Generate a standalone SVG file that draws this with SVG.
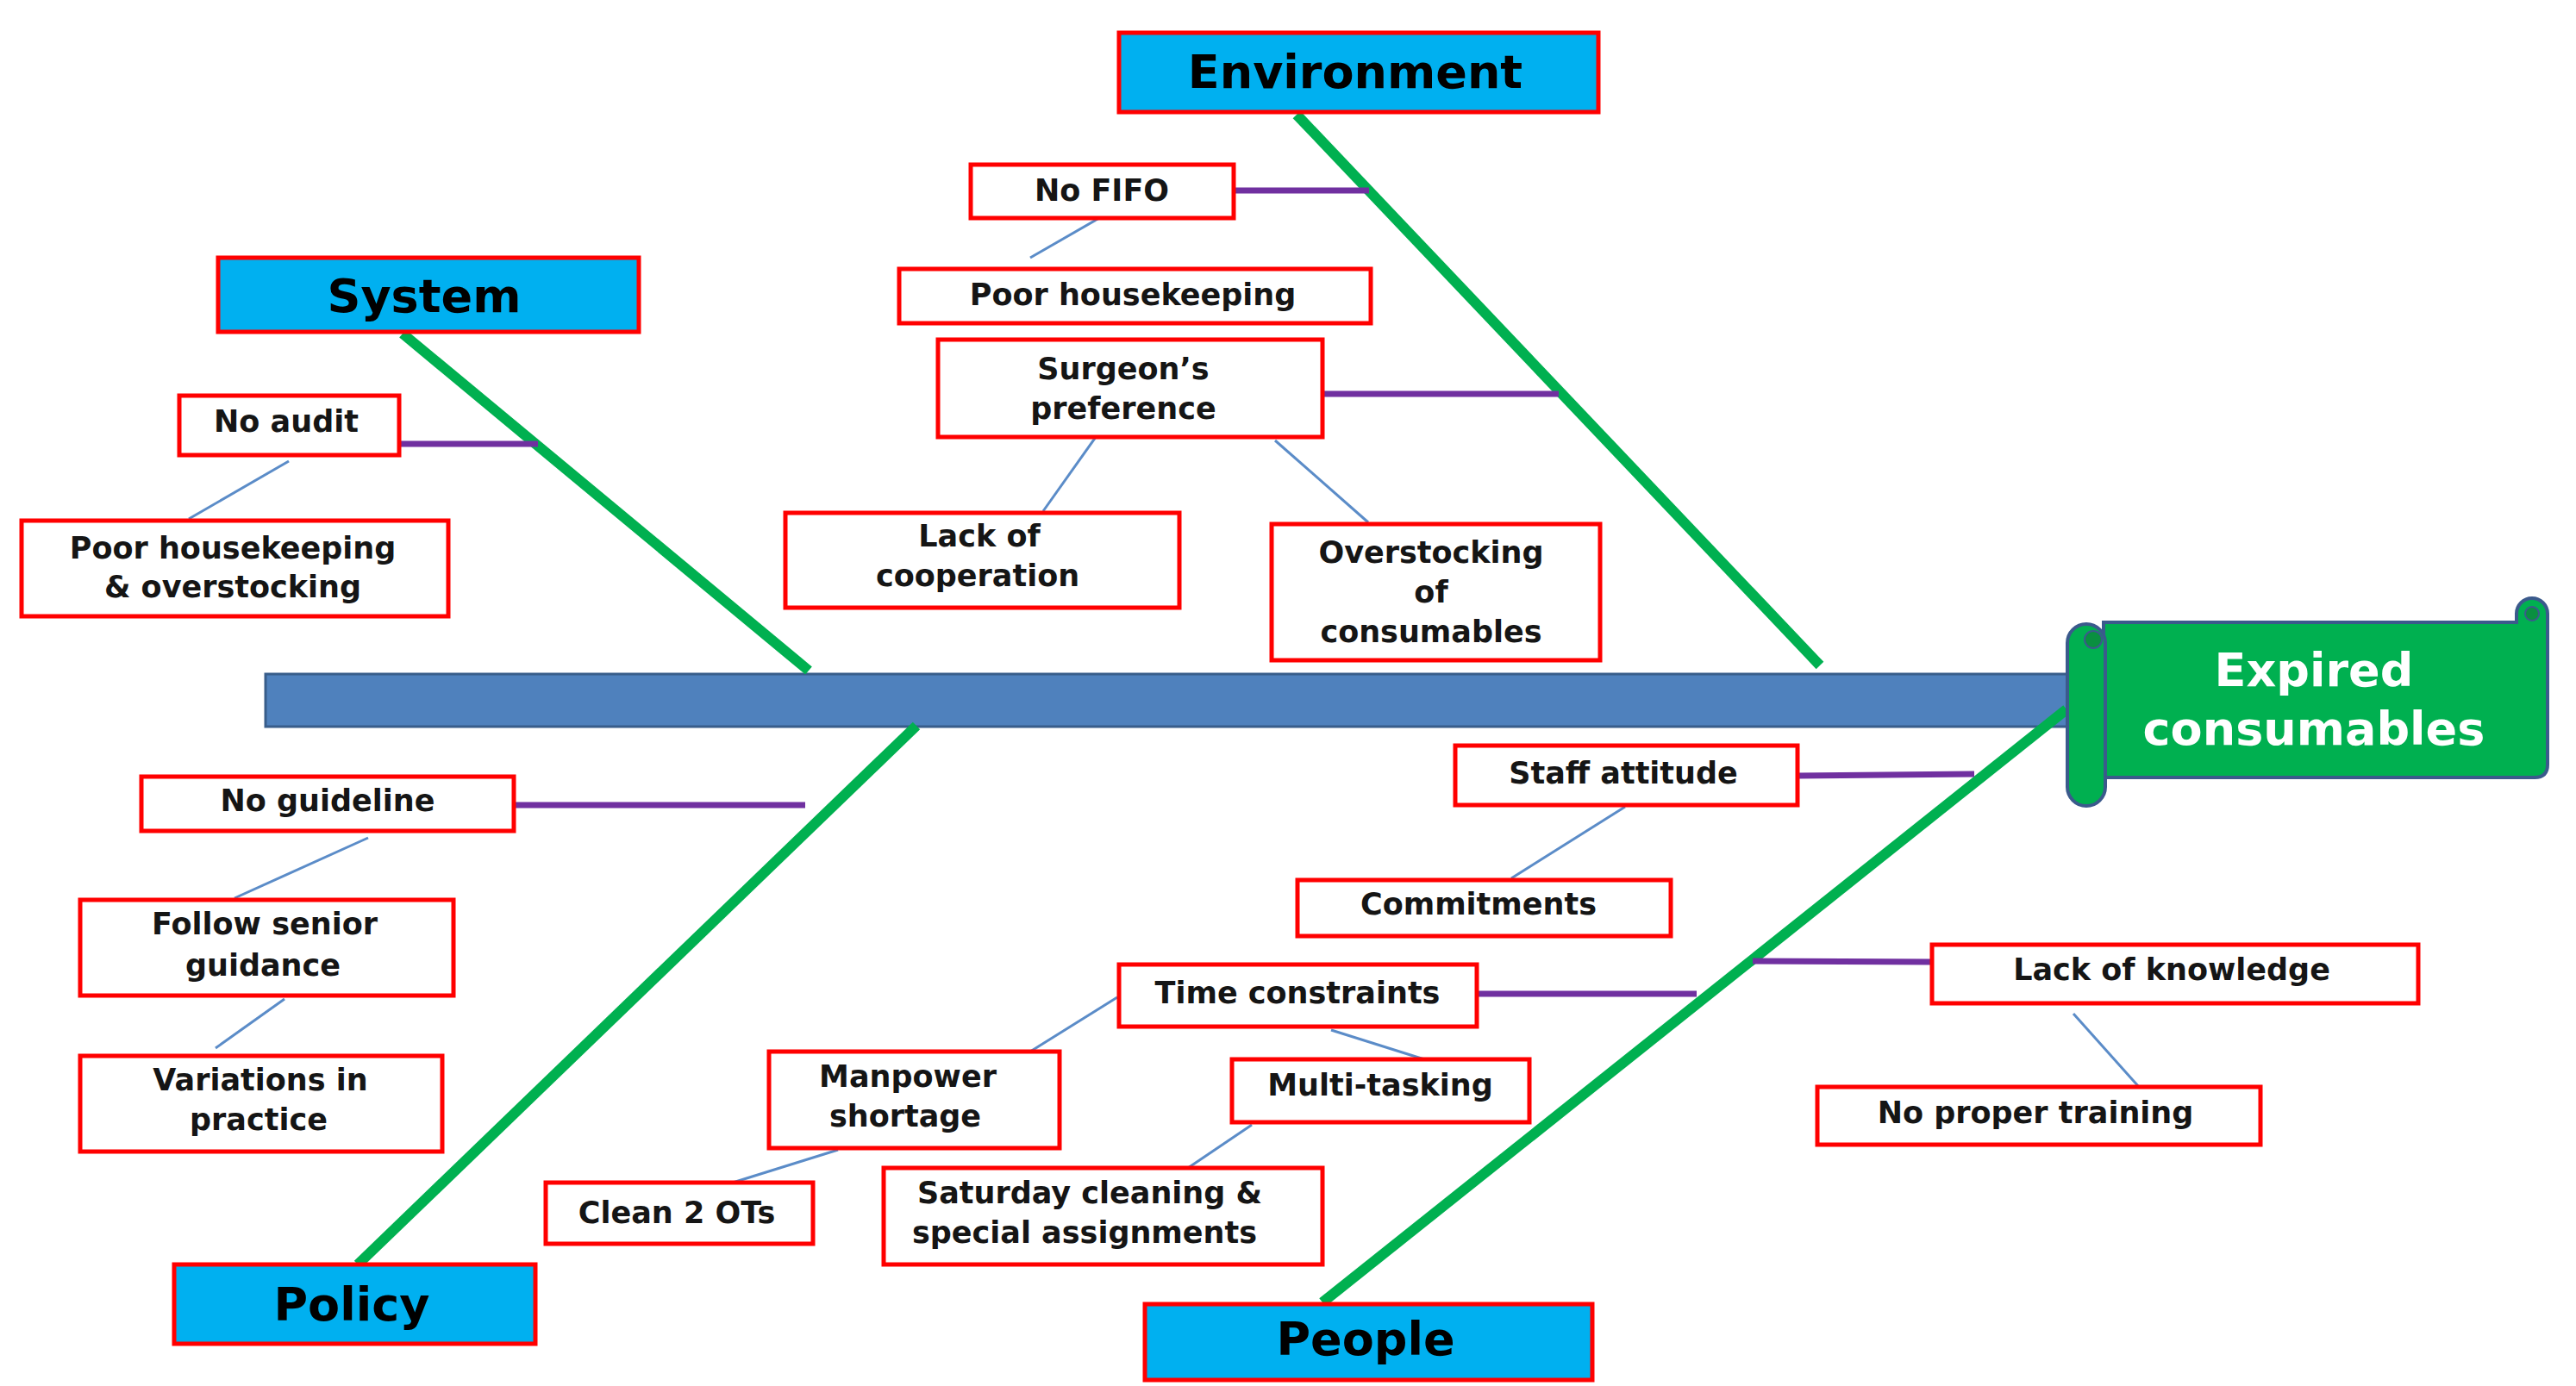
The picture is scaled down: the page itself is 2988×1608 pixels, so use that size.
<svg xmlns="http://www.w3.org/2000/svg" width="2988" height="1608" viewBox="0 0 2988 1608">
<style>
.bg{fill:#ffffff}
.cause rect{fill:#ffffff;stroke:#FF0000;stroke-width:5}
.cause text{font-family:"DejaVu Sans","Liberation Sans",sans-serif;font-weight:bold;font-size:35px;fill:#151515;text-anchor:middle}
.cat rect{fill:#00B0F0;stroke:#FF0000;stroke-width:5}
.cat text{font-family:"DejaVu Sans","Liberation Sans",sans-serif;font-weight:bold;font-size:54px;fill:#000000;text-anchor:middle}
.bone{stroke:#00B050;stroke-width:12;fill:none}
.sub{stroke:#7030A0;stroke-width:7;fill:none}
.link{stroke:#5B8CC8;stroke-width:3;fill:none}
.scroll{fill:#00B050;stroke:#3B5A8C;stroke-width:4}
</style>
<rect class="bg" x="0" y="0" width="2988" height="1608"/>

<g id="spine">
<rect x="308" y="782" width="2094" height="61" fill="#4F81BD" stroke="#385D8A" stroke-width="3"/>
</g>

<g id="connectors">
<line class="bone" x1="467" y1="387" x2="938" y2="778"/>
<line class="bone" x1="1504" y1="133" x2="2111" y2="772"/>
<line class="bone" x1="415" y1="1467" x2="1063" y2="842"/>
<line class="bone" x1="1534" y1="1511" x2="2397" y2="823"/>

<line class="sub" x1="1431" y1="221" x2="1588" y2="221"/>
<line class="sub" x1="1534" y1="457" x2="1808" y2="457"/>
<line class="sub" x1="463" y1="515" x2="624" y2="515"/>
<line class="sub" x1="596" y1="934" x2="934" y2="934"/>
<line class="sub" x1="2085" y1="900" x2="2290" y2="898"/>
<line class="sub" x1="1713" y1="1153" x2="1968" y2="1153"/>
<line class="sub" x1="2033" y1="1115" x2="2241" y2="1116"/>

<line class="link" x1="1275" y1="253" x2="1195" y2="299"/>
<line class="link" x1="1271" y1="507" x2="1210" y2="593"/>
<line class="link" x1="1479" y1="511" x2="1587" y2="606"/>
<line class="link" x1="335" y1="535" x2="219" y2="602"/>
<line class="link" x1="427" y1="972" x2="272" y2="1042"/>
<line class="link" x1="330" y1="1159" x2="250" y2="1216"/>
<line class="link" x1="1885" y1="936" x2="1753" y2="1019"/>
<line class="link" x1="1296" y1="1157" x2="1195" y2="1220"/>
<line class="link" x1="1544" y1="1195" x2="1652" y2="1229"/>
<line class="link" x1="972" y1="1334" x2="850" y2="1372"/>
<line class="link" x1="1452" y1="1305" x2="1378" y2="1355"/>
<line class="link" x1="2405" y1="1176" x2="2481" y2="1261"/>
</g>

<g id="head">
<path class="scroll" d="M2440,722 H2919 V712 A18,18 0 0 1 2955,712 V887 Q2955,902 2940,902 H2440 Z"/>
<circle cx="2937" cy="712" r="8" fill="#0A8F40" stroke="#3B5A8C" stroke-width="2"/>
<rect class="scroll" x="2398" y="724" width="44" height="211" rx="22"/>
<circle cx="2428" cy="742" r="10" fill="#0A8F40" stroke="#3B5A8C" stroke-width="2"/>
<text x="2684" y="796" font-family="DejaVu Sans, Liberation Sans, sans-serif" font-weight="bold" font-size="54" fill="#ffffff" text-anchor="middle">Expired</text>
<text x="2684" y="864" font-family="DejaVu Sans, Liberation Sans, sans-serif" font-weight="bold" font-size="54" fill="#ffffff" text-anchor="middle">consumables</text>
</g>

<g id="cat-environment" class="cat"><rect x="1298" y="38" width="556" height="92"/><text x="1572" y="102">Environment</text></g>
<g id="cat-system" class="cat"><rect x="253" y="299" width="488" height="86"/><text x="492" y="362">System</text></g>
<g id="cat-policy" class="cat"><rect x="202" y="1467" width="419" height="92"/><text x="408" y="1532">Policy</text></g>
<g id="cat-people" class="cat"><rect x="1328" y="1513" width="519" height="88"/><text x="1584" y="1572">People</text></g>

<g id="no-fifo" class="cause"><rect x="1126" y="191" width="305" height="62"/><text x="1278" y="233">No FIFO</text></g>
<g id="poor-housekeeping" class="cause"><rect x="1043" y="312" width="547" height="63"/><text x="1314" y="354">Poor housekeeping</text></g>
<g id="surgeons-preference" class="cause"><rect x="1088" y="394" width="446" height="113"/><text x="1303" y="440">Surgeon’s</text><text x="1303" y="486">preference</text></g>
<g id="lack-of-cooperation" class="cause"><rect x="911" y="595" width="457" height="110"/><text x="1136" y="634">Lack of</text><text x="1134" y="680">cooperation</text></g>
<g id="overstocking" class="cause"><rect x="1475" y="608" width="381" height="158"/><text x="1660" y="653">Overstocking</text><text x="1660" y="699">of</text><text x="1660" y="745">consumables</text></g>
<g id="no-audit" class="cause"><rect x="208" y="459" width="255" height="69"/><text x="332" y="501">No audit</text></g>
<g id="poor-housekeeping-overstocking" class="cause"><rect x="25" y="604" width="495" height="111"/><text x="270" y="648">Poor housekeeping</text><text x="270" y="693">&amp; overstocking</text></g>
<g id="no-guideline" class="cause"><rect x="164" y="901" width="432" height="63"/><text x="380" y="941">No guideline</text></g>
<g id="follow-senior" class="cause"><rect x="93" y="1044" width="433" height="111"/><text x="307" y="1084">Follow senior</text><text x="305" y="1132">guidance</text></g>
<g id="variations" class="cause"><rect x="93" y="1225" width="420" height="111"/><text x="302" y="1265">Variations in</text><text x="300" y="1311">practice</text></g>
<g id="staff-attitude" class="cause"><rect x="1688" y="865" width="397" height="69"/><text x="1883" y="909">Staff attitude</text></g>
<g id="commitments" class="cause"><rect x="1505" y="1021" width="433" height="65"/><text x="1715" y="1061">Commitments</text></g>
<g id="time-constraints" class="cause"><rect x="1298" y="1119" width="415" height="72"/><text x="1505" y="1164">Time constraints</text></g>
<g id="lack-of-knowledge" class="cause"><rect x="2241" y="1096" width="564" height="68"/><text x="2519" y="1137">Lack of knowledge</text></g>
<g id="no-proper-training" class="cause"><rect x="2108" y="1261" width="514" height="67"/><text x="2361" y="1303">No proper training</text></g>
<g id="manpower-shortage" class="cause"><rect x="892" y="1220" width="337" height="112"/><text x="1053" y="1261">Manpower</text><text x="1050" y="1307">shortage</text></g>
<g id="multi-tasking" class="cause"><rect x="1429" y="1229" width="345" height="73"/><text x="1601" y="1271">Multi-tasking</text></g>
<g id="clean-2-ots" class="cause"><rect x="633" y="1372" width="310" height="71"/><text x="785" y="1419">Clean 2 OTs</text></g>
<g id="saturday-cleaning" class="cause"><rect x="1025" y="1355" width="509" height="112"/><text x="1264" y="1396">Saturday cleaning &amp;</text><text x="1258" y="1442">special assignments</text></g>
</svg>
